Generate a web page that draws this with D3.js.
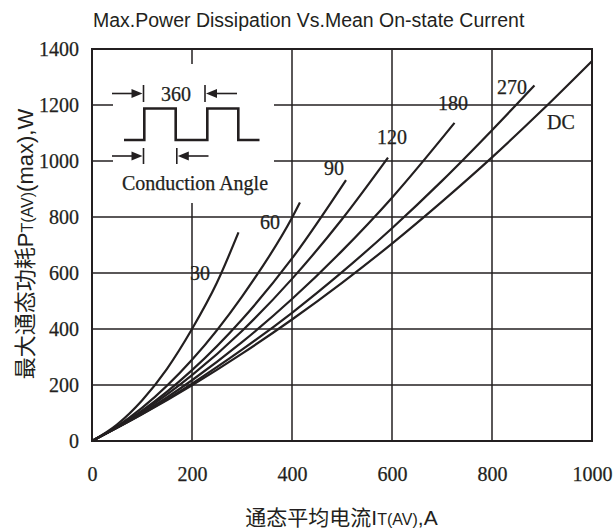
<!DOCTYPE html>
<html>
<head>
<meta charset="utf-8">
<script src="https://cdn.jsdelivr.net/npm/d3@7/dist/d3.min.js"></script>
<style>
  html, body { margin: 0; padding: 0; background: #fff; }
  svg { display: block; }
</style>
</head>
<body>
<svg id="chart" width="615" height="530"></svg>
<script>
// ---------------- DATA ----------------
const xTicks = [0, 200, 400, 600, 800, 1000];
const yTicks = [0, 200, 400, 600, 800, 1000, 1200, 1400];
const seriesNames = ["30", "60", "90", "120", "180", "270", "DC"];

const current30  = [0, 50, 100, 150, 200, 250, 293];
const power30    = [0, 59, 145, 258, 400, 566, 745];
const current60  = [0, 50, 100, 200, 300, 400, 416];
const power60    = [0, 52, 118, 290, 516, 797, 852];
const current90  = [0, 50, 100, 200, 300, 400, 508];
const power90    = [0, 50, 108, 253, 434, 652, 932];
const current120 = [0, 100, 200, 300, 400, 500, 592];
const power120   = [0, 104, 235, 393, 579, 792, 1012];
const current180 = [0, 100, 200, 300, 400, 500, 600, 725];
const power180   = [0, 99, 217, 353, 507, 679, 869, 1136];
const current270 = [0, 100, 200, 300, 400, 500, 600, 700, 800, 885];
const power270   = [0, 96, 205, 326, 458, 603, 760, 929, 1110, 1270];
const currentDC  = [0, 100, 200, 300, 400, 500, 600, 700, 800, 900, 1000];
const powerDC    = [0, 95, 199, 312, 434, 565, 705, 855, 1013, 1181, 1357];

const seriesCurrents = [current30, current60, current90, current120, current180, current270, currentDC];
const seriesPowers   = [power30, power60, power90, power120, power180, power270, powerDC];

// ---------------- LAYOUT ----------------
const ink = "#231f20";
const serif = "'Liberation Serif', 'DejaVu Serif', serif";
const sans = "'Liberation Sans', 'Noto Sans CJK SC', sans-serif";
const plot = { left: 92, right: 592, top: 49, bottom: 441 };
// label anchor positions in data units [current, power]
const labelAt = [[216, 601], [356, 782], [484, 975], [600, 1086], [722, 1207], [840, 1264], [938, 1139]];

const svg = d3.select("#chart");
const x = d3.scaleLinear().domain([0, 1000]).range([plot.left, plot.right]);
const y = d3.scaleLinear().domain([0, 1400]).range([plot.bottom, plot.top]);

// grid
const g = svg.append("g");
g.selectAll("line.v").data(xTicks.slice(1, -1)).enter().append("line")
  .attr("x1", d => x(d)).attr("x2", d => x(d))
  .attr("y1", y(0)).attr("y2", y(1400))
  .attr("stroke", ink).attr("stroke-width", 1.5);
g.selectAll("line.h").data(yTicks.slice(1, -1)).enter().append("line")
  .attr("x1", x(0)).attr("x2", x(1000))
  .attr("y1", d => y(d)).attr("y2", d => y(d))
  .attr("stroke", ink).attr("stroke-width", 1.5);

// inset white background (hides grid)
const inset = { x: 113, y: 64, w: 161, h: 139 };
svg.append("rect").attr("x", inset.x).attr("y", inset.y)
  .attr("width", inset.w).attr("height", inset.h).attr("fill", "#fff");

// border
svg.append("rect").attr("x", x(0)).attr("y", y(1400))
  .attr("width", x(1000) - x(0)).attr("height", y(0) - y(1400))
  .attr("fill", "none").attr("stroke", ink).attr("stroke-width", 2);

// axes (labels only)
const xAxis = d3.axisBottom(x).tickValues(xTicks).tickSize(0).tickPadding(26).tickFormat(d3.format("d"));
const yAxis = d3.axisLeft(y).tickValues(yTicks).tickSize(0).tickPadding(13).tickFormat(d3.format("d"));
const gx = svg.append("g").attr("transform", `translate(0,${plot.bottom})`).call(xAxis);
const gy = svg.append("g").attr("transform", `translate(${plot.left},0)`).call(yAxis);
[gx, gy].forEach(a => {
  a.select(".domain").remove();
  a.selectAll("text").attr("font-family", serif).attr("font-size", 20).attr("fill", ink)
    .attr("stroke", ink).attr("stroke-width", 0.25);
});

// curves
const line = d3.line().x(d => x(d[0])).y(d => y(d[1])).curve(d3.curveMonotoneX);
seriesNames.forEach((name, i) => {
  const pts = seriesCurrents[i].map((c, j) => [c, seriesPowers[i][j]]);
  svg.append("path").datum(pts).attr("d", line)
    .attr("fill", "none").attr("stroke", ink).attr("stroke-width", 2.2)
    .attr("stroke-linecap", "butt");
  svg.append("text").attr("x", x(labelAt[i][0])).attr("y", y(labelAt[i][1]))
    .attr("text-anchor", "middle").attr("dominant-baseline", "central")
    .attr("font-family", serif).attr("font-size", 20).attr("fill", ink)
    .attr("stroke", ink).attr("stroke-width", 0.25)
    .text(name);
});

// ---------------- INSET ----------------
const ins = svg.append("g");
function arrow(x1, x2, yy) {
  const dir = Math.sign(x2 - x1);
  ins.append("line").attr("x1", x1).attr("x2", x2 - dir * 8).attr("y1", yy).attr("y2", yy)
    .attr("stroke", ink).attr("stroke-width", 1.6);
  ins.append("path")
    .attr("d", `M${x2},${yy} L${x2 - dir * 11},${yy - 4.5} L${x2 - dir * 11},${yy + 4.5} Z`)
    .attr("fill", ink);
}
function tick(xx, y1, y2) {
  ins.append("line").attr("x1", xx).attr("x2", xx).attr("y1", y1).attr("y2", y2)
    .attr("stroke", ink).attr("stroke-width", 1.6);
}
// upper: 360
tick(143.5, 85, 102); tick(205, 85, 102);
arrow(112, 142.5, 93.5); arrow(237, 206, 93.5);
ins.append("text").attr("x", 176).attr("y", 93.5).attr("text-anchor", "middle")
  .attr("dominant-baseline", "central").attr("font-family", serif).attr("font-size", 20)
  .attr("fill", ink).attr("stroke", ink).attr("stroke-width", 0.25).text("360");
// waveform
const lo = 140, hi = 108.5;
ins.append("path")
  .attr("d", `M124,${lo} H144.3 V${hi} H175.7 V${lo} H207.3 V${hi} H238.3 V${lo} H259.5`)
  .attr("fill", "none").attr("stroke", ink).attr("stroke-width", 2.6);
// lower: conduction angle
tick(143.5, 148, 164); tick(176.8, 148, 164);
arrow(112, 142.5, 156); arrow(208.5, 177.8, 156);
ins.append("text").attr("x", 195).attr("y", 182.5).attr("text-anchor", "middle")
  .attr("dominant-baseline", "central").attr("font-family", serif).attr("font-size", 20)
  .attr("fill", ink).attr("stroke", ink).attr("stroke-width", 0.25).text("Conduction Angle");

// ---------------- TITLES ----------------
svg.append("text").attr("x", 93).attr("y", 26.5)
  .attr("font-family", sans).attr("font-size", 19.5).attr("fill", ink)
  .text("Max.Power Dissipation Vs.Mean On-state Current");

const yt = svg.append("text")
  .attr("transform", "translate(33,244) rotate(-90)")
  .attr("text-anchor", "middle")
  .attr("font-family", sans).attr("font-size", 22).attr("fill", ink);
yt.append("tspan").text("最大通态功耗P");
yt.append("tspan").attr("font-size", 16).text("T(AV)");
yt.append("tspan").text("(max),W");

const xt = svg.append("text").attr("x", 341.5).attr("y", 524.5)
  .attr("text-anchor", "middle")
  .attr("font-family", sans).attr("font-size", 21).attr("fill", ink);
xt.append("tspan").text("通态平均电流I");
xt.append("tspan").attr("font-size", 16).text("T(AV)");
xt.append("tspan").text(",A");
</script>
</body>
</html>
